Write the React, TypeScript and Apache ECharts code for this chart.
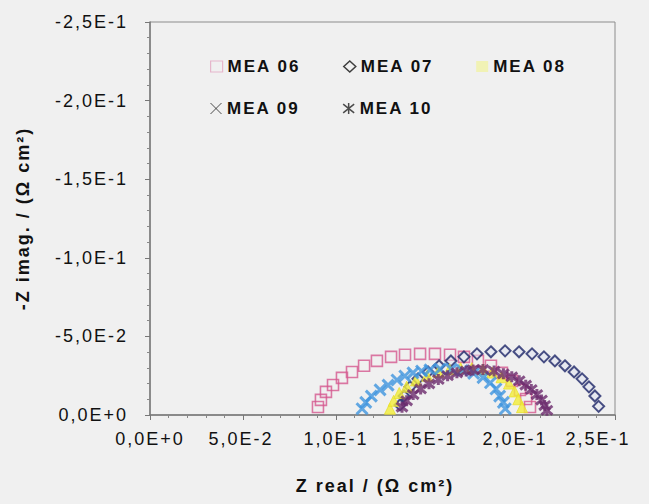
import React, { useEffect, useRef } from "react";
import * as echarts from "echarts";

// ---- data (Z real, Z imag) in Ω cm² ----
const mea06X = [0.0903, 0.0919, 0.0946, 0.0984, 0.1032, 0.1086, 0.1151, 0.122, 0.1296, 0.1371, 0.1452, 0.1532, 0.1613, 0.1688, 0.1763, 0.1833, 0.1892, 0.1946, 0.1989, 0.2022, 0.2043];
const mea06Y = [-0.0051, -0.0096, -0.0147, -0.0191, -0.0236, -0.0274, -0.0313, -0.0344, -0.037, -0.0383, -0.0389, -0.0389, -0.0383, -0.037, -0.0344, -0.0313, -0.0268, -0.0217, -0.0159, -0.0102, -0.0051];

const mea07X = [0.1344, 0.1366, 0.1398, 0.1441, 0.1495, 0.1554, 0.1618, 0.1688, 0.1758, 0.1833, 0.1909, 0.1984, 0.2054, 0.2118, 0.2177, 0.2231, 0.228, 0.2323, 0.236, 0.2392, 0.2412];
const mea07Y = [-0.0064, -0.0121, -0.0179, -0.023, -0.0274, -0.0313, -0.0344, -0.037, -0.0389, -0.0402, -0.0408, -0.0402, -0.0389, -0.037, -0.0344, -0.0313, -0.0274, -0.023, -0.0179, -0.0121, -0.0055];

const mea08X = [0.129, 0.131, 0.134, 0.138, 0.143, 0.149, 0.155, 0.161, 0.167, 0.173, 0.179, 0.184, 0.189, 0.193, 0.196, 0.198, 0.2];
const mea08Y = [-0.004, -0.009, -0.014, -0.018, -0.022, -0.025, -0.0275, -0.029, -0.0298, -0.0298, -0.029, -0.027, -0.024, -0.02, -0.015, -0.01, -0.005];

const mea09X = [0.114, 0.116, 0.119, 0.1237, 0.128, 0.1328, 0.137, 0.1414, 0.146, 0.1505, 0.156, 0.162, 0.168, 0.174, 0.179, 0.183, 0.186, 0.188, 0.19, 0.191];
const mea09Y = [-0.004, -0.008, -0.012, -0.016, -0.019, -0.0223, -0.0248, -0.0268, -0.028, -0.0287, -0.0293, -0.0292, -0.0283, -0.0265, -0.0238, -0.0205, -0.0165, -0.012, -0.008, -0.004];

const mea10X = [0.1355, 0.138, 0.1415, 0.1455, 0.15, 0.155, 0.16, 0.165, 0.17, 0.1737, 0.179, 0.185, 0.19, 0.1945, 0.1985, 0.202, 0.205, 0.208, 0.2105, 0.2122, 0.2134];
const mea10Y = [-0.005, -0.009, -0.013, -0.0166, -0.0198, -0.0226, -0.025, -0.0268, -0.028, -0.0287, -0.029, -0.028, -0.0262, -0.0243, -0.0218, -0.019, -0.0162, -0.013, -0.0095, -0.006, -0.003];

const seriesNames = ["MEA 06", "MEA 07", "MEA 08", "MEA 09", "MEA 10"];
const xTickLabels = ["0,0E+0", "5,0E-2", "1,0E-1", "1,5E-1", "2,0E-1", "2,5E-1"];
const yTickLabels = ["0,0E+0", "-5,0E-2", "-1,0E-1", "-1,5E-1", "-2,0E-1", "-2,5E-1"];

const xTitle = "Z real / (Ω cm²)";
const yTitle = "-Z imag. / (Ω cm²)";

const pairs = (xs: number[], ys: number[]) => xs.map((x, i) => [x, ys[i]]);

const X_PATH = "path://M0,0L10,10M10,0L0,10";
const STAR_PATH = "path://M0,1L10,9M10,1L0,9M5,0L5,10";

export default function App() {
  const ref = useRef<HTMLDivElement>(null);

  useEffect(() => {
    if (!ref.current) return;
    const chart = echarts.init(ref.current, undefined, { renderer: "svg" });
    const font = "'Liberation Sans', Arial, sans-serif";
    const tickRich: any = {};
    const shifts = [0, -4, 0, -8, -14, -34];
    shifts.forEach((s, i) => {
      tickRich["t" + i] = {
        fontFamily: font,
        fontSize: 18,
        color: "#111",
        padding: s >= 0 ? [0, 0, 0, s] : [0, -s, 0, 0],
      };
    });

    const legendText = { fontFamily: font, fontSize: 17, fontWeight: "bold", color: "#111" };

    chart.setOption({
      animation: false,
      backgroundColor: "#f0f0f0",
      grid: {
        left: 150,
        right: 34,
        top: 22,
        bottom: 89,
        show: true,
        borderColor: "#8c8c8c",
        borderWidth: 1,
        backgroundColor: "transparent",
      },
      legend: [
        {
          left: 205,
          top: 53,
          itemWidth: 12,
          itemHeight: 11,
          itemGap: 54,
          textStyle: legendText,
          data: [
            { name: "MEA 06", icon: "rect", itemStyle: { color: "rgba(0,0,0,0)", borderColor: "#e4a8c2", borderWidth: 1.2 } },
            { name: "MEA 07", icon: "diamond", itemStyle: { color: "rgba(0,0,0,0)", borderColor: "#111", borderWidth: 1.5 } },
            { name: "MEA 08", icon: "rect", itemStyle: { color: "#f1f2a6", borderWidth: 0 } },
          ],
        },
        {
          left: 205,
          top: 95,
          itemWidth: 12,
          itemHeight: 11,
          itemGap: 54,
          textStyle: legendText,
          data: [
            { name: "MEA 09", icon: X_PATH, itemStyle: { color: "rgba(0,0,0,0)", borderColor: "#222", borderWidth: 1 } },
            { name: "MEA 10", icon: STAR_PATH, itemStyle: { color: "rgba(0,0,0,0)", borderColor: "#222", borderWidth: 1.5 } },
          ],
        },
      ],
      xAxis: {
        type: "value",
        min: 0,
        max: 0.25,
        interval: 0.05,
        name: xTitle,
        nameLocation: "middle",
        nameGap: 62,
        nameTextStyle: { fontFamily: font, fontSize: 18, fontWeight: "bold", color: "#111", padding: [0, 15, 0, 0] },
        axisLine: { onZero: false, lineStyle: { color: "#7a7a7a", width: 1.5 } },
        axisTick: { show: true, length: 5, lineStyle: { color: "#777" } },
        minorTick: { show: true, splitNumber: 5, length: 3, lineStyle: { color: "#888" } },
        splitLine: { show: false },
        axisLabel: {
          margin: 15,
          showMinLabel: true,
          showMaxLabel: true,
          hideOverlap: false,
          formatter: (v: number) => {
            const i = Math.round(v / 0.05);
            return `{t${i}|${xTickLabels[i]}}`;
          },
          rich: tickRich,
        },
      },
      yAxis: {
        type: "value",
        inverse: true,
        min: -0.25,
        max: 0,
        interval: 0.05,
        name: yTitle,
        nameLocation: "middle",
        nameGap: 118,
        nameTextStyle: { fontFamily: font, fontSize: 18, fontWeight: "bold", color: "#111" },
        axisLine: { onZero: false, lineStyle: { color: "#7a7a7a", width: 1.5 } },
        axisTick: { show: true, length: 5, lineStyle: { color: "#777" } },
        minorTick: { show: true, splitNumber: 5, length: 3, lineStyle: { color: "#888" } },
        splitLine: { show: false },
        axisLabel: {
          margin: 22,
          showMinLabel: true,
          showMaxLabel: true,
          fontFamily: font,
          fontSize: 18,
          color: "#111",
          formatter: (v: number) => yTickLabels[Math.round(-v / 0.05)],
        },
      },
      series: [
        {
          name: seriesNames[0],
          type: "scatter",
          symbol: "rect",
          symbolSize: 11,
          itemStyle: { color: "rgba(0,0,0,0)", borderColor: "#d4588f", borderWidth: 1.6 },
          data: pairs(mea06X, mea06Y),
        },
        {
          name: seriesNames[1],
          type: "scatter",
          symbol: "diamond",
          symbolSize: 11,
          itemStyle: { color: "rgba(225,228,240,0.7)", borderColor: "#1d2668", borderWidth: 2 },
          data: pairs(mea07X, mea07Y),
        },
        {
          name: seriesNames[2],
          type: "scatter",
          symbol: "triangle",
          symbolSize: 11,
          itemStyle: { color: "#f2ee3a", borderColor: "#e8e030", borderWidth: 1 },
          data: pairs(mea08X, mea08Y),
        },
        {
          name: seriesNames[3],
          type: "scatter",
          symbol: X_PATH,
          symbolSize: 11,
          itemStyle: { color: "rgba(0,0,0,0)", borderColor: "#3e95de", borderWidth: 3 },
          data: pairs(mea09X, mea09Y),
        },
        {
          name: seriesNames[4],
          type: "scatter",
          symbol: STAR_PATH,
          symbolSize: 11,
          itemStyle: { color: "rgba(0,0,0,0)", borderColor: "#6b2a6d", borderWidth: 3 },
          data: pairs(mea10X, mea10Y),
        },
      ],
    });
    return () => chart.dispose();
  }, []);

  return (
    <div
      className="chartwrap"
      style={{ position: "fixed", left: 0, top: 0, width: 649, height: 504, background: "#f0f0f0" }}
    >
      <style>{`.chartwrap text { letter-spacing: 2px; }`}</style>
      <div ref={ref} style={{ width: 649, height: 504 }} />
    </div>
  );
}
